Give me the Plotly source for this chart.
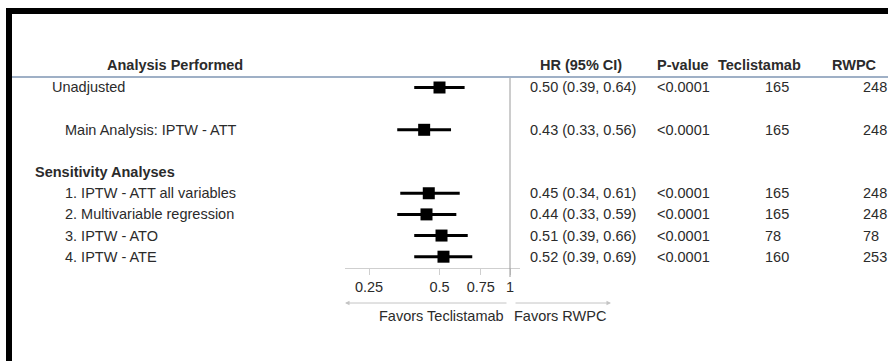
import plotly.graph_objects as go

# ---------------- data ----------------
row_labels = ["Unadjusted", "Main Analysis: IPTW - ATT",
              "1. IPTW - ATT all variables", "2. Multivariable regression",
              "3. IPTW - ATO", "4. IPTW - ATE"]
section_label = "Sensitivity Analyses"
hr = [0.50, 0.43, 0.45, 0.44, 0.51, 0.52]
ci_low = [0.39, 0.33, 0.34, 0.33, 0.39, 0.39]
ci_high = [0.64, 0.56, 0.61, 0.59, 0.66, 0.69]
p_values = ["<0.0001"] * 6
n_teclistamab = [165, 165, 165, 165, 78, 160]
n_rwpc = [248, 248, 248, 248, 78, 253]
tick_vals = [0.25, 0.5, 0.75, 1]
tick_text = ["0.25", "0.5", "0.75", "1"]
headers = ["Analysis Performed", "HR (95% CI)", "P-value", "Teclistamab", "RWPC"]

# ---------------- layout helpers ----------------
W, H = 888, 361
def px(x):
    return x / W
def py(y):
    return 1 - y / H

row_slots = [0, 2, 5, 6, 7, 8]      # vertical row slots (layout)
section_slot = 4
label_x = [50, 63, 63, 63, 63, 63]
Y0, DY = 87.5, 21.15                # pixel position of slot 0 and spacing
top_px, bot_px = 77, 268            # y-axis domain in pixels
y_range = [(bot_px - Y0) / DY, (top_px - Y0) / DY]

FONT = "Liberation Sans, Arial, sans-serif"
FS = 14.5
TXT = "#2b2b2b"

fig = go.Figure()
fig.add_trace(go.Scatter(
    x=hr, y=row_slots, mode="markers",
    marker=dict(symbol="square", size=12, color="black"),
    error_x=dict(type="data", symmetric=False,
                 array=[h - m for h, m in zip(ci_high, hr)],
                 arrayminus=[m - l for m, l in zip(hr, ci_low)],
                 thickness=3, width=0, color="black"),
    showlegend=False, hoverinfo="skip"))

ann = []
def txt(x, y, s, yref="y", bold=False, xanchor="left", size=FS, color=TXT):
    ann.append(dict(x=x, y=y, xref="paper", yref=yref, text=f"<b>{s}</b>" if bold else s,
                    showarrow=False, xanchor=xanchor, yanchor="middle",
                    font=dict(family=FONT, size=size, color=color)))

# headers
hy = py(65)
txt(px(175), hy, headers[0], "paper", True, "center")
txt(px(581), hy, headers[1], "paper", True, "center")
txt(px(655), hy, headers[2], "paper", True, "left")
txt(px(716), hy, headers[3], "paper", True, "left")
txt(px(830), hy, headers[4], "paper", True, "left")

# rows
for i, s in enumerate(row_slots):
    txt(px(label_x[i]), s, row_labels[i])
    txt(px(528), s, f"{hr[i]:.2f} ({ci_low[i]:.2f}, {ci_high[i]:.2f})")
    txt(px(655), s, p_values[i])
    txt(px(763), s, str(n_teclistamab[i]))
    txt(px(861), s, str(n_rwpc[i]))
txt(px(33), section_slot, section_label, bold=True)

# favors labels
txt(px(506), py(316), "Favors Teclistamab", "paper", xanchor="right")
txt(px(512), py(316), "Favors RWPC", "paper", xanchor="left")

# arrows
ann.append(dict(x=px(345), y=py(303), xref="paper", yref="paper", ax=163, ay=0,
                text="", showarrow=True, arrowhead=2, arrowsize=0.9, arrowwidth=1,
                arrowcolor="#c4c4c4"))
ann.append(dict(x=px(611), y=py(303), xref="paper", yref="paper", ax=-97, ay=0,
                text="", showarrow=True, arrowhead=2, arrowsize=0.9, arrowwidth=1,
                arrowcolor="#c4c4c4"))

shapes = [
    # black frame pieces (top and left)
    dict(type="rect", xref="paper", yref="paper", x0=px(6), x1=px(888), y0=py(14), y1=py(8),
         fillcolor="black", line=dict(width=0)),
    dict(type="rect", xref="paper", yref="paper", x0=px(6), x1=px(12), y0=0, y1=py(8),
         fillcolor="black", line=dict(width=0)),
    # header rule
    dict(type="line", xref="paper", yref="paper", x0=px(12), x1=1, y0=py(77), y1=py(77),
         line=dict(color="#9fb0c6", width=2)),
    # reference line at HR = 1
    dict(type="line", xref="x", yref="paper", x0=1, x1=1, y0=py(277), y1=py(78),
         line=dict(color="#9a9a9a", width=1)),
]

import math
ppd = 234.2  # pixels per decade
x_range = [-(510 - 345) / ppd, (520 - 510) / ppd]

fig.update_layout(
    width=W, height=H, margin=dict(l=0, r=0, t=0, b=0),
    paper_bgcolor="white", plot_bgcolor="white",
    xaxis=dict(type="log", domain=[px(345), px(520)], range=x_range,
               tickvals=tick_vals, ticktext=tick_text, showgrid=False,
               showline=True, linecolor="#cfcfcf", linewidth=1,
               ticks="outside", ticklen=6, tickcolor="#cfcfcf", tickwidth=1,
               tickfont=dict(family=FONT, size=FS, color=TXT), zeroline=False,
               anchor="y"),
    yaxis=dict(domain=[py(bot_px), py(top_px)], range=y_range, visible=False),
    annotations=ann, shapes=shapes,
)
fig.write_html("out.html")
